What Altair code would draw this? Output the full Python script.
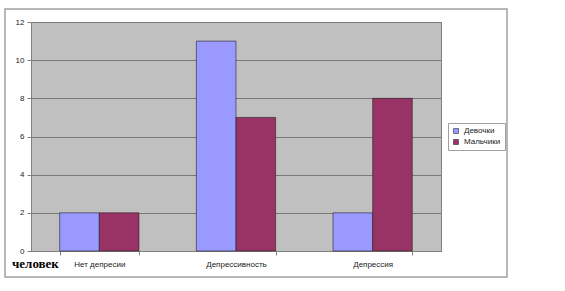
import altair as alt
import pandas as pd

categories = ["Нет депресии", "Депрессивность", "Депрессия"]
series = ["Девочки", "Мальчики"]
girls = [2, 11, 2]
boys = [2, 7, 8]
y_ticks = [0, 2, 4, 6, 8, 10, 12]
colors = ["#9999ff", "#993366"]

rows = []
for c, g, b in zip(categories, girls, boys):
    rows.append({"cat": c, "series": series[0], "value": g})
    rows.append({"cat": c, "series": series[1], "value": b})
df = pd.DataFrame(rows)

FONT = "Liberation Sans"

bars = alt.Chart(df).mark_bar(stroke="#222222", strokeWidth=0.6).encode(
    x=alt.X("cat:N", sort=categories, title=None,
            scale=alt.Scale(paddingInner=0.42, paddingOuter=0.21),
            axis=alt.Axis(labelAngle=0, tickBand="extent", labelFont=FONT,
                          labelFontSize=8, labelColor="#222222", labelPadding=5,
                          tickColor="#808080", tickSize=4, domainColor="#808080")),
    xOffset=alt.XOffset("series:N", sort=series),
    y=alt.Y("value:Q", title=None,
            scale=alt.Scale(domain=[0, 12], nice=False),
            axis=alt.Axis(values=y_ticks, labelFont=FONT, labelFontSize=8,
                          labelColor="#222222", labelPadding=3, grid=True,
                          gridColor="#7a7a7a", gridWidth=1, tickColor="#808080",
                          tickSize=4, domainColor="#808080")),
    color=alt.Color("series:N", sort=series,
                    scale=alt.Scale(domain=series, range=colors),
                    legend=alt.Legend(title=None, orient="none", legendX=417,
                                      legendY=101, direction="vertical",
                                      fillColor="white", strokeColor="#a0a0a0",
                                      padding=4, symbolType="square",
                                      symbolSize=25, symbolStrokeColor="#333333",
                                      symbolStrokeWidth=0.6, labelFont=FONT,
                                      labelFontSize=8, labelColor="#222222",
                                      rowPadding=3)),
)

one = pd.DataFrame({"a": [0]})
frame = alt.Chart(one).mark_rect(fill=None, stroke="#a0a0a0", strokeWidth=1.5).encode(
    x=alt.value(-26), x2=alt.value(476), y=alt.value(-13), y2=alt.value(255)
)
unit = alt.Chart(one).mark_text(text="человек", font="Liberation Serif",
                                fontWeight="bold", fontSize=13, align="left",
                                baseline="middle", color="black").encode(
    x=alt.value(-19), y=alt.value(242)
)

chart = alt.layer(frame, bars, unit).properties(
    width=410, height=229,
    autosize=alt.AutoSizeParams(type="none"),
    padding={"left": 31, "top": 22, "right": 124, "bottom": 40},
    background="white",
).configure_view(fill="#c0c0c0", stroke="#808080")

chart.save("out.html", embed_options={"renderer": "svg", "actions": False})
